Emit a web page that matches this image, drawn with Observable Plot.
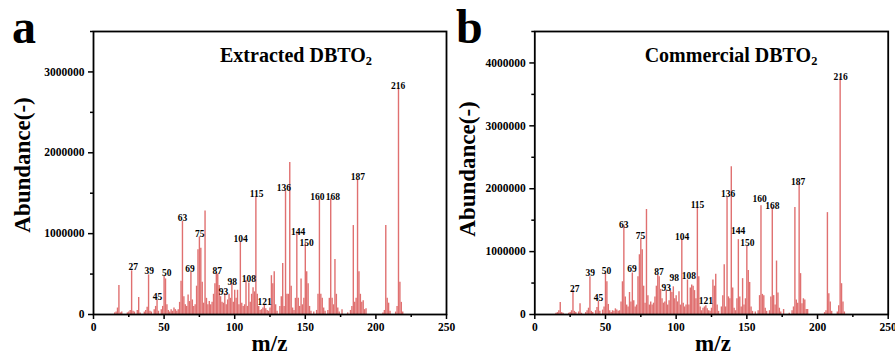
<!DOCTYPE html>
<html><head><meta charset="utf-8">
<script src="https://cdn.jsdelivr.net/npm/d3@7"></script>
<script src="https://cdn.jsdelivr.net/npm/@observablehq/plot@0.6"></script>
<style>
html,body{margin:0;padding:0;background:#fff;}
#wrap{position:relative;width:895px;height:362px;overflow:hidden;font-family:"Liberation Serif","Times New Roman",serif;font-weight:bold;color:#000;}
.panel{position:absolute;top:0;}
.t{position:absolute;white-space:nowrap;line-height:1;font-weight:bold;}
.t sub{font-size:0.62em;line-height:0;vertical-align:-0.22em;}
</style></head><body>
<div id="wrap">
  <div class="panel" id="pa" style="left:0px"></div>
  <div class="panel" id="pb" style="left:447px"></div>
  <div class="t" style="left:12px;top:2.8px;font-size:48px">a</div>
  <div class="t" style="left:456px;top:2.8px;font-size:48px">b</div>
  <div class="t" style="left:296px;top:45px;font-size:20px;transform:translateX(-50%)">Extracted DBTO<sub>2</sub></div>
  <div class="t" style="left:731px;top:45px;font-size:20px;transform:translateX(-50%)">Commercial DBTO<sub>2</sub></div>
  <div class="t" style="left:21.5px;top:165px;font-size:23px;transform:translate(-50%,-50%) rotate(-90deg)">Abundance(-)</div>
  <div class="t" style="left:466.5px;top:169px;font-size:23px;transform:translate(-50%,-50%) rotate(-90deg)">Abundance(-)</div>
  <div class="t" style="left:269.5px;top:332px;font-size:23px;transform:translateX(-50%)">m/z</div>
  <div class="t" style="left:713px;top:332px;font-size:23px;transform:translateX(-50%)">m/z</div>
</div>
<script>
// m/z positions shared by both spectra
const mz = [
  15,16,17,18,19,20,24,25,26,27,
  28,29,31,32,33,36,37,38,39,40,
  41,43,44,45,46,48,49,50,51,52,
  53,54,55,56,57,58,59,60,61,62,
  63,64,65,66,67,68,69,70,71,72,
  73,74,75,76,77,78,79,80,81,82,
  83,84,85,86,87,88,89,90,91,92,
  93,94,95,96,97,98,99,100,101,102,
  103,104,105,106,107,108,109,110,111,112,
  113,114,115,116,117,118,119,120,121,122,
  123,124,125,126,127,128,129,130,132,133,
  134,135,136,137,138,139,140,141,142,143,
  144,145,146,147,148,149,150,151,152,153,
  154,156,158,159,160,161,162,163,164,166,
  167,168,169,170,171,172,173,174,176,180,
  182,183,184,185,186,187,188,189,190,191,
  192,193,205,206,207,208,209,210,214,215,
  216,217,218,219
];
// Extracted DBTO2 abundances
const abundA = [
  20000,30000,80000,360000,20000,30000,20000,30000,50000,540000,
  40000,30000,50000,210000,20000,30000,50000,90000,490000,40000,
  30000,60000,100000,180000,40000,60000,100000,470000,440000,120000,
  50000,30000,60000,40000,80000,60000,40000,60000,150000,410000,
  1150000,220000,120000,100000,240000,160000,520000,180000,100000,120000,
  350000,800000,960000,820000,400000,140000,1280000,200000,120000,160000,
  120000,150000,250000,380000,520000,500000,360000,220000,150000,140000,
  260000,120000,180000,250000,200000,380000,150000,300000,200000,300000,
  120000,900000,140000,100000,120000,420000,100000,390000,150000,250000,
  330000,280000,1450000,250000,100000,50000,60000,80000,120000,70000,
  50000,40000,80000,480000,380000,530000,120000,40000,100000,220000,
  630000,100000,1530000,250000,250000,1880000,350000,80000,50000,200000,
  1000000,200000,100000,440000,120000,200000,880000,530000,380000,100000,
  40000,30000,50000,250000,1420000,250000,200000,80000,40000,50000,
  200000,1430000,200000,120000,680000,250000,80000,30000,60000,20000,
  50000,100000,1100000,150000,200000,1670000,530000,250000,150000,170000,
  60000,70000,20000,50000,1100000,200000,140000,40000,30000,100000,
  2800000,400000,150000,30000
];
// Commercial DBTO2 abundances
const abundB = [
  20000,30000,60000,190000,30000,20000,20000,30000,60000,380000,
  50000,30000,40000,170000,20000,30000,60000,100000,600000,50000,
  30000,60000,110000,210000,50000,70000,120000,650000,520000,160000,
  60000,30000,60000,50000,90000,70000,50000,60000,200000,520000,
  1420000,280000,150000,120000,350000,200000,660000,220000,120000,150000,
  600000,950000,1200000,1030000,450000,180000,1670000,300000,150000,200000,
  150000,180000,280000,450000,630000,600000,400000,250000,180000,200000,
  380000,150000,220000,380000,350000,440000,250000,300000,200000,360000,
  150000,1200000,180000,120000,150000,550000,150000,420000,470000,450000,
  380000,250000,1690000,600000,120000,60000,100000,120000,140000,90000,
  60000,50000,100000,550000,450000,640000,150000,50000,120000,300000,
  790000,120000,1860000,280000,250000,2350000,420000,100000,60000,250000,
  1190000,280000,120000,570000,150000,250000,1080000,700000,510000,120000,
  50000,40000,60000,300000,1730000,320000,300000,100000,50000,60000,
  280000,1700000,300000,150000,850000,340000,100000,40000,80000,20000,
  60000,120000,1700000,230000,180000,2100000,650000,170000,250000,230000,
  80000,80000,30000,60000,1620000,330000,200000,50000,40000,140000,
  3770000,490000,200000,40000
];
// peak annotations: text, and where each sits (m/z of its centre, abundance of its baseline)
const peakLabels = ["27","39","45","50","63","69","75","87","93","98","104","108","115","121","136","144","150","160","168","187","216"];
const labelMzA = [28.1,39.4,45.3,51.9,63,68.4,75.2,87.7,92,98.3,104.2,110,115.6,121.2,134.9,145,151,158.5,169.6,187.3,215.8];
const labelAtA = [584000,543000,222000,510000,1200000,564000,1000000,543000,275000,400000,935000,444000,1490000,152000,1570000,1025000,885000,1457000,1457000,1707000,2827000];
const labelMzB = [28.3,39.3,45.1,50.7,63,68.7,74.8,87.8,93,98.6,104.3,109,115.1,121,136.8,143.9,150.3,159,168,186.3,216.3];
const labelAtB = [408000,656000,259000,687000,1429000,719000,1243000,671000,424000,583000,1227000,619000,1746000,222000,1916000,1322000,1138000,1837000,1719000,2100000,3778000];

const xTicks = [0, 50, 100, 150, 200, 250];
const xMinor = [25, 75, 125, 175, 225];
const yTicksA = [0, 1000000, 2000000, 3000000];
const yMinorA = [500000, 1500000, 2500000, 3500000];
const yTicksB = [0, 1000000, 2000000, 3000000, 4000000];
const yMinorB = [500000, 1500000, 2500000, 3500000, 4500000];

const barColor = "#e07070";

function panel(abund, labMz, labAt, yMax, yTicks, yMinor, opts) {
  const data = mz.map((m, i) => ({mz: m, v: abund[i]}));
  const lab = peakLabels.map((t, i) => ({mz: labMz[i], v: labAt[i], text: t}));
  return Plot.plot({
    width: opts.width,
    height: 362,
    marginLeft: opts.ml,
    marginRight: opts.mr,
    marginTop: 31,
    marginBottom: 48,
    style: "font-family:'Liberation Serif','Times New Roman',serif;font-weight:bold;background:transparent;overflow:visible;color:#000;",
    x: {domain: [0, 250]},
    y: {domain: [0, yMax]},
    marks: [
      Plot.ruleX(data, {x: "mz", y1: 0, y2: "v", stroke: barColor, strokeWidth: 1.4}),
      Plot.axisX({ticks: xTicks, tickSize: 5, tickPadding: 3, tickFormat: d3.format("d"), fontSize: 11.5, label: null, strokeWidth: 1.5}),
      Plot.axisX({ticks: xMinor, tickSize: 3, text: null, label: null, strokeWidth: 1.5}),
      Plot.axisY({ticks: yTicks, tickSize: 5, tickPadding: 4, tickFormat: d3.format("d"), fontSize: 11.5, label: null, strokeWidth: 1.5}),
      Plot.axisY({ticks: yMinor, tickSize: 3, text: null, label: null, strokeWidth: 1.5}),
      Plot.frame({stroke: "#000", strokeWidth: 1.8}),
      Plot.text(lab, {x: "mz", y: "v", text: "text", fontSize: 9.5, fontWeight: "bold", fill: "#000"})
    ]
  });
}

document.getElementById("pa").appendChild(panel(abundA, labelMzA, labelAtA, 3500000, yTicksA, yMinorA, {width: 449, ml: 93, mr: 3}));
document.getElementById("pb").appendChild(panel(abundB, labelMzB, labelAtB, 4500000, yTicksB, yMinorB, {width: 448, ml: 87.3, mr: 7.3}));
</script>
</body></html>
